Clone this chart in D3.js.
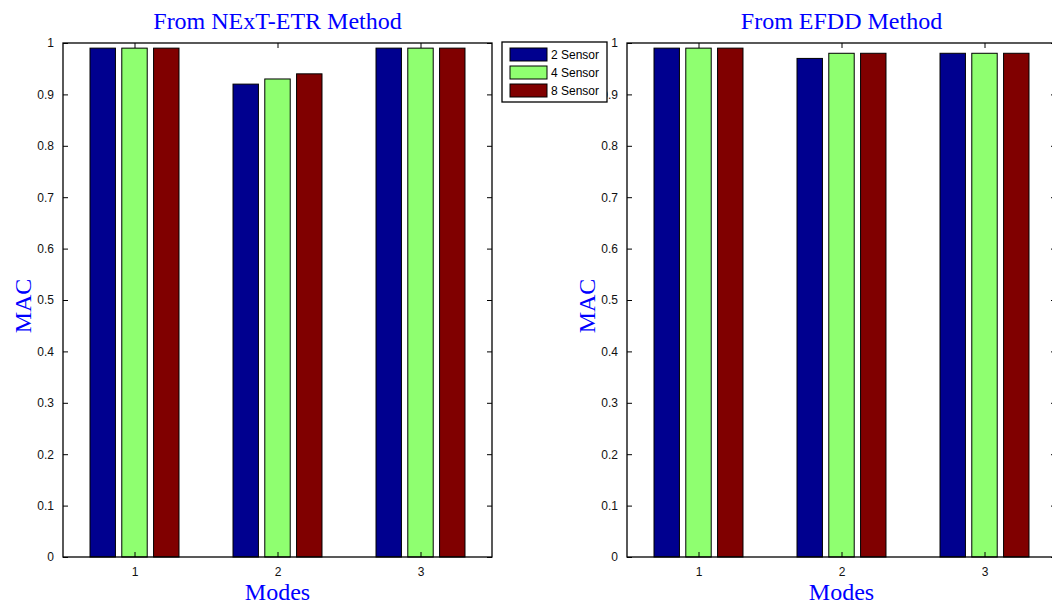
<!DOCTYPE html>
<html>
<head>
<meta charset="utf-8">
<script src="https://cdn.jsdelivr.net/npm/d3@7"></script>
<style>
  body { margin: 0; background: #fff; }
  svg { display: block; }
</style>
</head>
<body>
<div class="chart"></div>
<script>
// data
const modes = [1, 2, 3];
const sensors = ['2 Sensor', '4 Sensor', '8 Sensor'];
const colors = ['#00008F', '#8FFF70', '#800000'];
const nextEtr = [
  [0.99, 0.99, 0.99],
  [0.92, 0.93, 0.94],
  [0.99, 0.99, 0.99]
];
const efdd = [
  [0.99, 0.99, 0.99],
  [0.97, 0.98, 0.98],
  [0.98, 0.98, 0.98]
];
const yTicks = d3.range(0, 1.0001, 0.1).map(v => +v.toFixed(1));

const W = 1052, H = 606;
const svg = d3.select('.chart').append('svg').attr('width', W).attr('height', H);

// one subplot
function drawPanel(left, title, values) {
  const w = 429, top = 43, h = 514;
  const g = svg.append('g').attr('transform', 'translate(' + left + ',' + top + ')');
  const x = d3.scaleLinear().domain([0.5, 3.5]).range([0, w]);
  const y = d3.scaleLinear().domain([0, 1]).range([h, 0]);

  // MATLAB grouped bar geometry
  const slot = (2 / 3) / 3;
  const bw = slot * 0.8;

  modes.forEach(function(m, i) {
    g.selectAll('.b' + i).data(values[i]).enter().append('rect')
      .attr('x', (d, j) => x(m + (j - 1) * slot - bw / 2))
      .attr('y', d => y(d))
      .attr('width', x(bw) - x(0))
      .attr('height', d => y(0) - y(d))
      .attr('fill', (d, j) => colors[j])
      .attr('stroke', '#000')
      .attr('stroke-width', 1);
  });

  // axes with inward ticks on all sides
  const fmt = d => d === 0 ? '0' : d === 1 ? '1' : d3.format('.1f')(d);
  g.append('g').call(d3.axisLeft(y).tickValues(yTicks).tickSizeInner(-5).tickSizeOuter(0).tickPadding(9).tickFormat(fmt));
  g.append('g').attr('transform', 'translate(' + w + ',0)')
    .call(d3.axisRight(y).tickValues(yTicks).tickSizeInner(-5).tickSizeOuter(0).tickFormat(''));
  g.append('g').attr('transform', 'translate(0,' + h + ')')
    .call(d3.axisBottom(x).tickValues(modes).tickSizeInner(-5).tickSizeOuter(0).tickPadding(10).tickFormat(d3.format('d')));
  g.append('g')
    .call(d3.axisTop(x).tickValues(modes).tickSizeInner(-5).tickSizeOuter(0).tickFormat(''));
  g.selectAll('.domain').remove();
  g.selectAll('.tick line').attr('stroke', '#000');
  g.selectAll('.tick text')
    .style('font-family', '"Liberation Sans", Arial, sans-serif')
    .style('font-size', '12px').style('fill', '#111');
  g.append('rect').attr('width', w).attr('height', h)
    .attr('fill', 'none').attr('stroke', '#000').attr('stroke-width', 1.3);

  g.append('text').attr('x', w / 2).attr('y', -14).attr('text-anchor', 'middle')
    .attr('font-family', '"Liberation Serif", "Times New Roman", serif').attr('font-size', 24)
    .attr('fill', '#0000FF').text(title);
  g.append('text').attr('x', w / 2).attr('y', h + 43).attr('text-anchor', 'middle')
    .attr('font-family', '"Liberation Serif", "Times New Roman", serif').attr('font-size', 24)
    .attr('fill', '#0000FF').text('Modes');
  g.append('text').attr('transform', 'translate(-32,' + (h / 2 + 6) + ') rotate(-90)')
    .attr('text-anchor', 'middle')
    .attr('font-family', '"Liberation Serif", "Times New Roman", serif').attr('font-size', 24)
    .attr('fill', '#0000FF').text('MAC');
}

drawPanel(63, 'From NExT-ETR Method', nextEtr);
drawPanel(627, 'From EFDD Method', efdd);

// legend
const legend = svg.append('g').attr('transform', 'translate(502,42)');
legend.append('rect').attr('width', 105).attr('height', 60)
  .attr('fill', '#fff').attr('stroke', '#000').attr('stroke-width', 1.3);
const item = legend.selectAll('.item').data(sensors).enter().append('g')
  .attr('transform', (d, i) => 'translate(8,' + (6 + i * 18) + ')');
item.append('rect').attr('width', 37).attr('height', 13)
  .attr('fill', (d, i) => colors[i]).attr('stroke', '#000');
item.append('text').attr('x', 41).attr('y', 11)
  .attr('font-family', '"Liberation Sans", Arial, sans-serif').attr('font-size', 12)
  .attr('fill', '#000').text(d => d);
</script>
</body>
</html>
